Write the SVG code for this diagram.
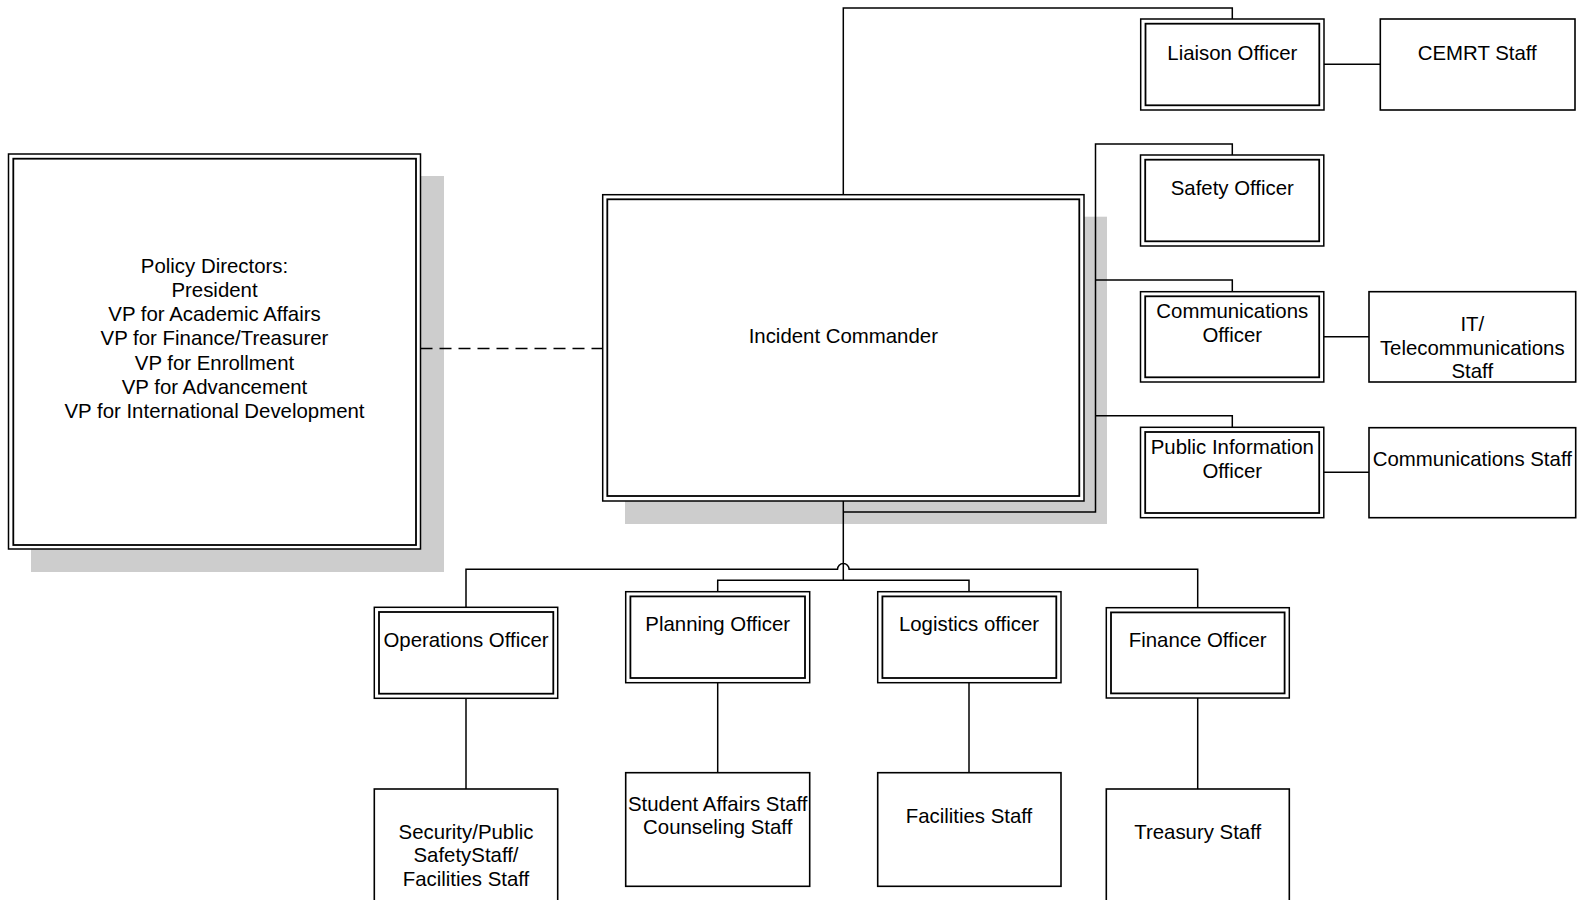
<svg xmlns="http://www.w3.org/2000/svg" width="1585" height="900" viewBox="0 0 1585 900">
<style>
  .bg{fill:#ffffff}
  .shadow{fill:#cdcdcd;stroke:none}
  .outer{fill:#ffffff;stroke:#000;stroke-width:1.5}
  .inner{fill:none;stroke:#000;stroke-width:1.8}
  .single{fill:#ffffff;stroke:#000;stroke-width:1.6}
  .conn{fill:none;stroke:#000;stroke-width:1.5}
  .dash{fill:none;stroke:#000;stroke-width:1.5;stroke-dasharray:12 7}
  text{font-family:"Liberation Sans",Arial,sans-serif;font-size:20.4px;fill:#000;text-anchor:middle}
</style>
<rect class="bg" x="0" y="0" width="1585" height="900"/>

<g id="policy-directors">
  <rect class="shadow" x="31" y="176" width="413" height="396"/>
  <rect class="outer" x="8.5" y="154" width="412" height="395"/>
  <rect class="inner" x="13.3" y="158.7" width="402.7" height="386.3"/>
  <text x="214.5" y="272.7">Policy Directors:</text>
  <text x="214.5" y="296.9">President</text>
  <text x="214.5" y="321.1">VP for Academic Affairs</text>
  <text x="214.5" y="345.3">VP for Finance/Treasurer</text>
  <text x="214.5" y="369.5">VP for Enrollment</text>
  <text x="214.5" y="393.7">VP for Advancement</text>
  <text x="214.5" y="417.9">VP for International Development</text>
</g>

<g id="incident-commander">
  <rect class="shadow" x="625" y="216.7" width="482" height="307.3"/>
  <rect class="outer" x="602.7" y="194.7" width="481.3" height="306.3"/>
  <rect class="inner" x="607.3" y="199.3" width="472" height="296.7"/>
  <text x="843.3" y="342.5">Incident Commander</text>
</g>

<g id="connectors">
  <path class="dash" d="M420.5 348.5 H602.7"/>
  <path class="conn" d="M843.3 194.7 V8 H1232.3 V19"/>
  <path class="conn" d="M843.3 501 V580"/>
  <path class="conn" d="M843.3 512 H1095.5 V144 H1232.3 V155"/>
  <path class="conn" d="M1095.5 280 H1232.3 V291.7"/>
  <path class="conn" d="M1095.5 415.7 H1232.3 V427.3"/>
  <path class="conn" d="M1324 64.3 H1380.3"/>
  <path class="conn" d="M1324 336.7 H1369"/>
  <path class="conn" d="M1324 472.3 H1369"/>
  <path class="conn" d="M717.7 591.7 V580.3 H969 V591.7"/>
  <path class="conn" d="M466 607.3 V569.3 H837.5 A5.8 5.8 0 0 1 849.1 569.3 H1197.7 V607.7"/>
  <path class="conn" d="M466 698.3 V789"/>
  <path class="conn" d="M717.7 682.7 V772.7"/>
  <path class="conn" d="M969 682.7 V772.7"/>
  <path class="conn" d="M1197.7 698 V789"/>
</g>

<g id="liaison-officer">
  <rect class="outer" x="1140.7" y="19" width="183.3" height="91"/>
  <rect class="inner" x="1145.5" y="23.7" width="173.8" height="81.6"/>
  <text x="1232.3" y="60">Liaison Officer</text>
</g>
<g id="cemrt-staff">
  <rect class="single" x="1380.3" y="19" width="194.7" height="91"/>
  <text x="1477.3" y="60">CEMRT Staff</text>
</g>

<g id="safety-officer">
  <rect class="outer" x="1140.5" y="155" width="183.3" height="91"/>
  <rect class="inner" x="1145.2" y="159.7" width="174" height="81.6"/>
  <text x="1232.3" y="195">Safety Officer</text>
</g>

<g id="communications-officer">
  <rect class="outer" x="1140.5" y="291.7" width="183.3" height="90.3"/>
  <rect class="inner" x="1145.2" y="296.3" width="174" height="81"/>
  <text x="1232.3" y="318.3">Communications</text>
  <text x="1232.3" y="342.3">Officer</text>
</g>
<g id="it-staff">
  <rect class="single" x="1369" y="291.7" width="206.7" height="90.3"/>
  <text x="1472.3" y="331">IT/</text>
  <text x="1472.3" y="355">Telecommunications</text>
  <text x="1472.3" y="378.3">Staff</text>
</g>

<g id="public-information-officer">
  <rect class="outer" x="1140.5" y="427.3" width="183.3" height="90.4"/>
  <rect class="inner" x="1145.2" y="432" width="174" height="81"/>
  <text x="1232.3" y="454.3">Public Information</text>
  <text x="1232.3" y="478.3">Officer</text>
</g>
<g id="communications-staff">
  <rect class="single" x="1369" y="427.7" width="206.7" height="90"/>
  <text x="1472.3" y="466">Communications Staff</text>
</g>

<g id="operations-officer">
  <rect class="outer" x="374.3" y="607.3" width="183.4" height="91"/>
  <rect class="inner" x="379" y="612" width="174.3" height="81.7"/>
  <text x="466" y="646.7">Operations Officer</text>
</g>
<g id="planning-officer">
  <rect class="outer" x="625.7" y="591.7" width="184" height="91"/>
  <rect class="inner" x="630.4" y="596.4" width="174.6" height="81.6"/>
  <text x="717.7" y="630.7">Planning Officer</text>
</g>
<g id="logistics-officer">
  <rect class="outer" x="877.7" y="591.7" width="183.3" height="91"/>
  <rect class="inner" x="882.4" y="596.4" width="173.9" height="81.6"/>
  <text x="969" y="630.7">Logistics officer</text>
</g>
<g id="finance-officer">
  <rect class="outer" x="1106.3" y="607.7" width="183" height="90.3"/>
  <rect class="inner" x="1111" y="612.4" width="173.6" height="81"/>
  <text x="1197.7" y="647.3">Finance Officer</text>
</g>

<g id="security-staff">
  <rect class="single" x="374.3" y="789" width="183.4" height="140"/>
  <text x="466" y="839">Security/Public</text>
  <text x="466" y="862.3">SafetyStaff/</text>
  <text x="466" y="885.5">Facilities Staff</text>
</g>
<g id="student-affairs-staff">
  <rect class="single" x="625.7" y="772.7" width="184" height="113.6"/>
  <text x="717.7" y="810.7">Student Affairs Staff</text>
  <text x="717.7" y="834">Counseling Staff</text>
</g>
<g id="facilities-staff">
  <rect class="single" x="877.7" y="772.7" width="183.3" height="113.6"/>
  <text x="969" y="822.7">Facilities Staff</text>
</g>
<g id="treasury-staff">
  <rect class="single" x="1106.3" y="789" width="183" height="140"/>
  <text x="1197.7" y="838.7">Treasury Staff</text>
</g>
</svg>
